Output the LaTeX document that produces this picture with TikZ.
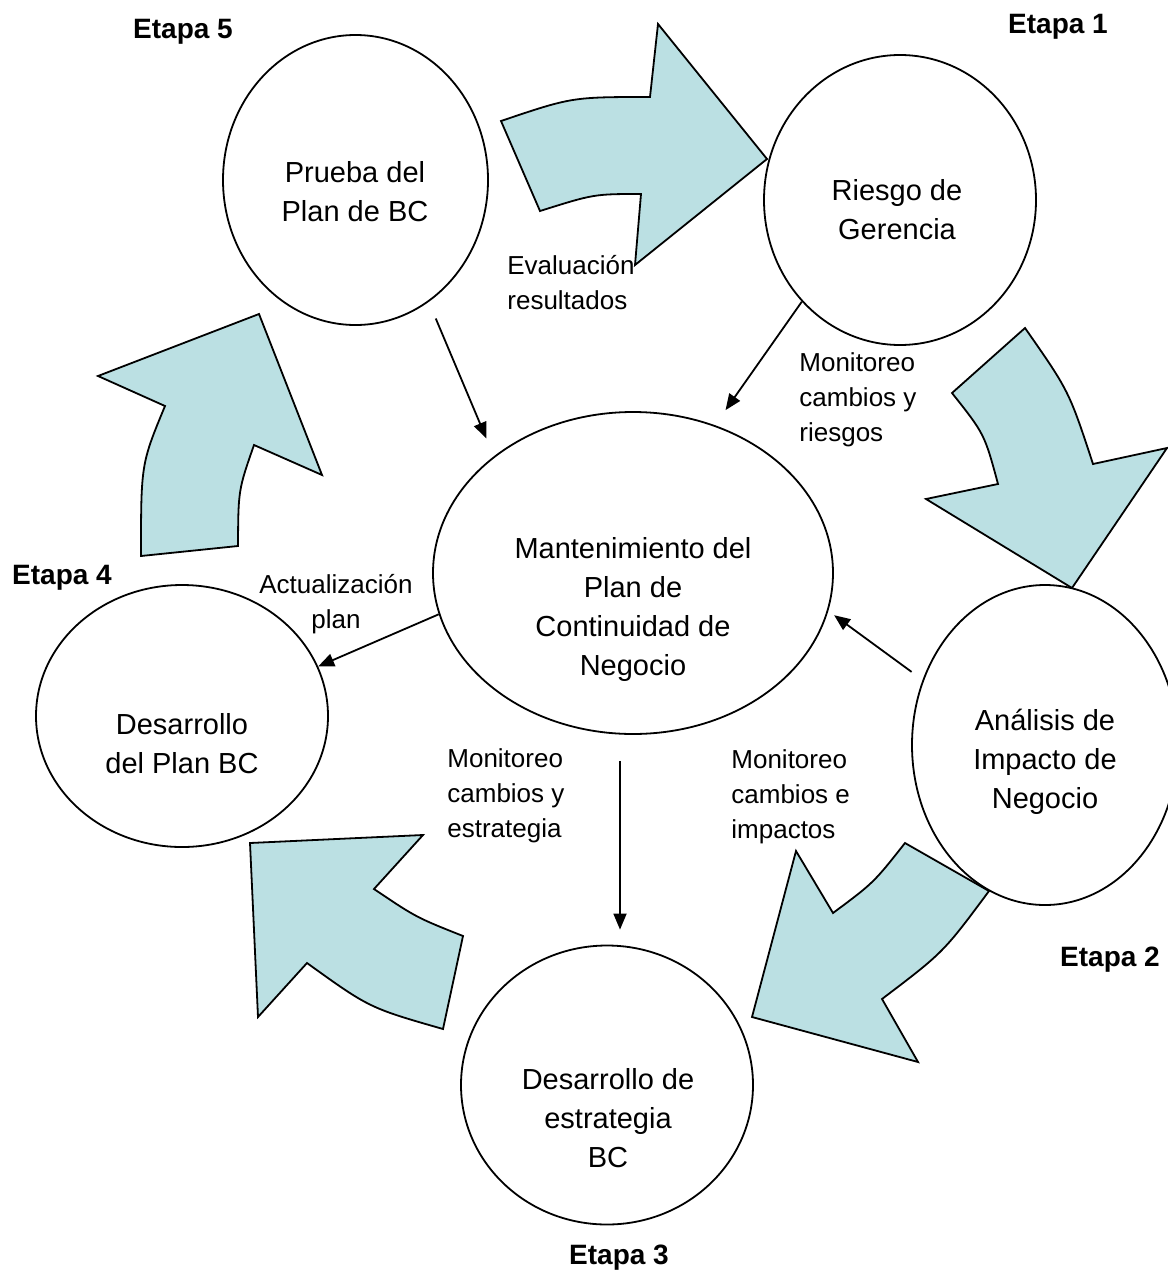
\documentclass[tikz,border=0pt]{standalone}
\usepackage{fontspec}
\setmainfont{Liberation Sans}
\usetikzlibrary{arrows.meta,shapes.geometric}
\definecolor{blockfill}{RGB}{187,224,227}

\begin{document}
\begin{tikzpicture}[x=0.5pt, y=-0.5pt, every node/.style={font=\fontsize{14.5}{19.5}\selectfont}, stage/.style={ellipse, draw=black, line width=0.9pt, fill=white, inner sep=0pt}, body/.style={align=center}, etapa/.style={font=\fontsize{14}{17}\selectfont\bfseries}, lbl/.style={align=left, anchor=west, inner sep=0pt, font=\fontsize{13}{17.5}\selectfont}, conn/.style={-{Triangle[length=8pt, width=6.5pt]}, line width=0.9pt}, block/.style={draw=black, line width=0.9pt, fill=blockfill, line join=miter}]
\useasboundingbox (0,0) rectangle (1167,1274);

% curved block arrows
\draw[block] (501,121) .. controls (572,97) .. (650,97) -- (658,24) -- (767,159) -- (635,265) -- (641,194) .. controls (594,194) .. (540,211) -- cycle;
\draw[block] (952,393) -- (1025,328) .. controls (1069,391) .. (1093,464) -- (1167,448) -- (1072,588) -- (926,499) -- (998,484) .. controls (984.5,434) .. (952,393) -- cycle;
\draw[block] (905,843) -- (989,891) .. controls (943.4,952.4) .. (882,999) -- (918,1062) -- (752,1017) -- (796,851) -- (833,913) .. controls (873.6,882.8) .. (905,843) -- cycle;
\draw[block] (463,936) -- (443,1029) .. controls (369.4,1007.9) .. (307,963) -- (258,1017) -- (250,843) -- (423,835) -- (374,889) .. controls (416.2,917.4) .. (463,936) -- cycle;
\draw[block] (141,556) -- (238,546) .. controls (238.3,490) .. (254,445) -- (322,475) -- (259,314) -- (98,376) -- (165,406) .. controls (141,464) .. (141,556) -- cycle;

% stages
\node[stage, minimum width=132.5pt, minimum height=145pt] (prueba) at (355.5,180) {};
\node[stage, minimum width=136pt, minimum height=145pt] (riesgo) at (900,200) {};
\node[stage, minimum width=200pt, minimum height=161pt] (mant) at (633,573) {};
\node[stage, minimum width=133pt, minimum height=160pt] (analisis) at (1045,745) {};
\node[stage, minimum width=146pt, minimum height=139.5pt] (estrategia) at (607,1085) {};
\node[stage, minimum width=146pt, minimum height=131pt] (plan) at (182,716) {};

\node[body] (pruebatxt) at (355,192) {Prueba del\\Plan de BC};
\node[body] (riesgotxt) at (897,210) {Riesgo de\\Gerencia};
\node[body] (manttxt) at (633,609) {Mantenimiento del\\Plan de\\Continuidad de\\Negocio};
\node[body] (analisistxt) at (1045,762) {Análisis de\\Impacto de\\Negocio};
\node[body] (estrategiatxt) at (608,1118) {Desarrollo de\\estrategia\\BC};
\node[body] (plantxt) at (182,744) {Desarrollo\\del Plan BC};

\node[etapa] (etapa1) at (1058,27) {Etapa 1};
\node[etapa] (etapa2) at (1110,960) {Etapa 2};
\node[etapa] (etapa3) at (619,1258) {Etapa 3};
\node[etapa] (etapa4) at (62,578) {Etapa 4};
\node[etapa] (etapa5) at (183,32) {Etapa 5};

\node[lbl] (evaluacion) at (507,283) {Evaluación\\resultados};
\node[lbl] (monriesgo) at (799,400) {Monitoreo\\cambios y\\riesgos};
\node[lbl] (monestrat) at (447,796) {Monitoreo\\cambios y\\estrategia};
\node[lbl] (monimpacto) at (731,797) {Monitoreo\\cambios e\\impactos};
\node[lbl, anchor=center, align=center] (actualizacion) at (336,604) {Actualización\\plan};

% connectors
\draw[conn, shorten <=9pt, shorten >=9.7pt] (prueba.-59) -- (mant.140);
\draw[conn, shorten >=9.2pt] (riesgo.-134) -- (mant.61);
\draw[conn, shorten <=6.8pt, shorten >=3.6pt] (analisis.152) -- (mant.-11);
\draw[conn] (mant.-168) -- (plan.20);
\draw[conn, shorten <=13pt, shorten >=7.5pt] ([xshift=-6.5pt]mant.south) -- ([xshift=6.5pt]estrategia.north);
\end{tikzpicture}
\end{document}
